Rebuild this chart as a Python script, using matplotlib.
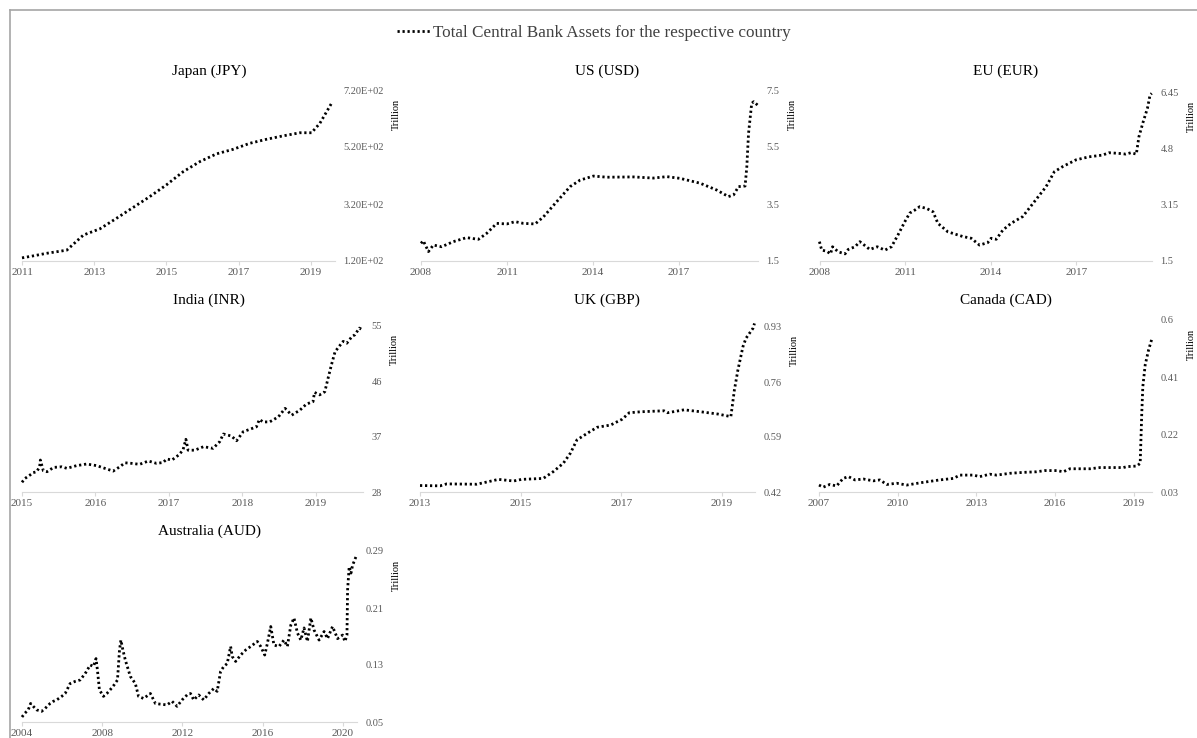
import matplotlib
matplotlib.use('Agg')
import matplotlib.pyplot as plt
from matplotlib.lines import Line2D

plt.rcParams['font.family'] = ['Liberation Serif', 'DejaVu Serif']

W, H = 1197, 738

# Data (decimal years, trillions)
jp_t = [2011.0, 2011.27, 2011.68, 2012.24, 2012.7, 2013.16, 2013.62, 2014.08, 2014.54, 2015.0,
        2015.46, 2015.93, 2016.39, 2016.85, 2017.31, 2017.77, 2018.23, 2018.7, 2019.02, 2019.25, 2019.6]
jp_v = [131, 137, 147, 158, 211, 233, 270, 308, 346, 387,
        433, 469, 496, 512, 533, 547, 559, 570, 570, 603, 679]

us_t = [2008.0, 2008.08, 2008.26, 2008.43, 2008.72, 2009.13, 2009.59, 2010.0, 2010.29, 2010.64,
        2010.99, 2011.28, 2011.57, 2011.98, 2012.27, 2012.73, 2013.2, 2013.55, 2014.01, 2014.48,
        2015.41, 2016.1, 2016.57, 2017.03, 2017.73, 2018.31, 2018.72, 2018.9, 2019.07, 2019.3,
        2019.36, 2019.42, 2019.53, 2019.6, 2019.77]
us_v = [2.12, 2.21, 1.83, 2.06, 2.0, 2.18, 2.32, 2.26, 2.47, 2.82,
        2.80, 2.88, 2.82, 2.80, 3.05, 3.58, 4.11, 4.34, 4.48, 4.44,
        4.45, 4.41, 4.46, 4.40, 4.23, 3.99, 3.76, 3.82, 4.11, 4.13,
        4.81, 5.98, 7.03, 7.09, 6.94]

eu_t = [2007.98, 2008.06, 2008.23, 2008.37, 2008.44, 2008.64, 2008.88, 2008.99, 2009.23, 2009.4,
        2009.75, 2010.01, 2010.28, 2010.51, 2010.74, 2010.98, 2011.15, 2011.33, 2011.5, 2011.74,
        2011.97, 2012.14, 2012.49, 2013.02, 2013.31, 2013.6, 2013.89, 2014.01, 2014.19, 2014.42,
        2014.71, 2015.12, 2015.53, 2015.94, 2016.23, 2016.52, 2016.99, 2017.45, 2017.92, 2018.15,
        2018.5, 2018.74, 2018.92, 2019.11, 2019.2, 2019.35, 2019.5, 2019.59, 2019.65]
eu_v = [2.07, 1.82, 1.79, 1.71, 1.92, 1.77, 1.71, 1.84, 1.92, 2.07,
        1.84, 1.92, 1.82, 1.92, 2.27, 2.66, 2.91, 3.0, 3.1, 3.05,
        2.95, 2.61, 2.36, 2.22, 2.17, 1.97, 2.04, 2.17, 2.14, 2.41,
        2.61, 2.81, 3.25, 3.69, 4.13, 4.28, 4.48, 4.57, 4.62, 4.69,
        4.67, 4.65, 4.69, 4.65, 5.16, 5.60, 6.0, 6.39, 6.44]

in_t = [2015.0, 2015.04, 2015.11, 2015.15, 2015.2, 2015.24, 2015.25, 2015.29, 2015.34, 2015.43,
        2015.54, 2015.61, 2015.74, 2015.88, 2016.02, 2016.1, 2016.24, 2016.33, 2016.4, 2016.49,
        2016.6, 2016.72, 2016.83, 2016.92, 2016.97, 2017.04, 2017.13, 2017.19, 2017.23, 2017.26,
        2017.35, 2017.47, 2017.6, 2017.69, 2017.74, 2017.85, 2017.92, 2018.01, 2018.1, 2018.19,
        2018.23, 2018.28, 2018.37, 2018.49, 2018.58, 2018.67, 2018.78, 2018.87, 2018.96, 2018.98,
        2019.05, 2019.12, 2019.17, 2019.21, 2019.26, 2019.33, 2019.37, 2019.42, 2019.49, 2019.53,
        2019.59, 2019.64]
in_v = [29.58, 30.2, 30.77, 31.14, 31.3, 32.1, 33.2, 31.46, 31.3, 32.0,
        32.1, 31.85, 32.28, 32.55, 32.28, 31.95, 31.4, 32.1, 32.75, 32.66,
        32.5, 33.04, 32.66, 32.8, 33.37, 33.2, 34.0, 34.8, 36.57, 34.8,
        34.8, 35.37, 35.1, 36.18, 37.43, 37.1, 36.34, 37.81, 38.2, 38.6,
        39.8, 39.4, 39.4, 40.24, 41.6, 40.5, 41.3, 42.3, 42.7, 44.2,
        43.8, 44.3, 46.76, 48.66, 50.82, 51.9, 52.5, 52.2, 53.3, 53.57,
        54.66, 54.35]

uk_t = [2013.0, 2013.4, 2013.53, 2014.13, 2014.36, 2014.56, 2014.86, 2015.02, 2015.45, 2015.65,
        2015.85, 2015.99, 2016.12, 2016.32, 2016.52, 2016.79, 2017.02, 2017.16, 2017.39, 2017.85,
        2017.92, 2018.25, 2018.58, 2018.92, 2019.18, 2019.25, 2019.32, 2019.42, 2019.48, 2019.62,
        2019.65]
uk_v = [0.440, 0.439, 0.445, 0.444, 0.452, 0.459, 0.454, 0.459, 0.462, 0.483,
        0.509, 0.540, 0.581, 0.601, 0.620, 0.627, 0.645, 0.665, 0.668, 0.671,
        0.665, 0.674, 0.668, 0.661, 0.653, 0.735, 0.797, 0.869, 0.895, 0.926,
        0.941]

ca_t = [2007.0, 2007.16, 2007.41, 2007.67, 2007.92, 2008.12, 2008.37, 2008.69, 2009.07, 2009.32,
        2009.58, 2009.96, 2010.34, 2010.97, 2011.6, 2012.12, 2012.37, 2012.88, 2013.13, 2013.51,
        2013.77, 2014.28, 2014.78, 2015.29, 2015.61, 2016.06, 2016.31, 2016.56, 2017.33, 2017.71,
        2018.6, 2018.73, 2019.11, 2019.24, 2019.3, 2019.34, 2019.43, 2019.56, 2019.69]
ca_v = [0.053, 0.046, 0.055, 0.050, 0.075, 0.081, 0.070, 0.073, 0.067, 0.070,
        0.055, 0.059, 0.053, 0.062, 0.070, 0.075, 0.086, 0.086, 0.081, 0.089,
        0.086, 0.092, 0.095, 0.097, 0.101, 0.101, 0.097, 0.107, 0.107, 0.111,
        0.111, 0.114, 0.116, 0.125, 0.291, 0.379, 0.451, 0.501, 0.539]

au_t = [2004.0, 2004.13, 2004.31, 2004.43, 2004.56, 2004.73, 2004.98, 2005.15, 2005.4, 2005.56,
        2005.73, 2005.98, 2006.15, 2006.4, 2006.65, 2006.9, 2007.15, 2007.4, 2007.56, 2007.69,
        2007.76, 2007.86, 2008.06, 2008.23, 2008.39, 2008.59, 2008.76, 2008.86, 2008.93, 2009.03,
        2009.15, 2009.4, 2009.65, 2009.81, 2010.06, 2010.4, 2010.65, 2010.9, 2011.23, 2011.48,
        2011.73, 2011.98, 2012.23, 2012.4, 2012.56, 2012.81, 2013.06, 2013.31, 2013.56, 2013.73,
        2013.9, 2014.06, 2014.23, 2014.4, 2014.48, 2014.65, 2014.9, 2015.15, 2015.4, 2015.73,
        2015.9, 2016.1, 2016.23, 2016.4, 2016.56, 2016.81, 2017.06, 2017.23, 2017.4, 2017.56,
        2017.73, 2017.9, 2018.06, 2018.23, 2018.4, 2018.56, 2018.81, 2019.06, 2019.23, 2019.48,
        2019.73, 2019.98, 2020.1, 2020.2, 2020.23, 2020.31, 2020.4, 2020.48, 2020.65]
au_v = [0.057, 0.062, 0.067, 0.076, 0.072, 0.067, 0.065, 0.069, 0.076, 0.079,
        0.081, 0.086, 0.090, 0.104, 0.107, 0.109, 0.118, 0.130, 0.128, 0.139,
        0.123, 0.095, 0.086, 0.090, 0.095, 0.102, 0.109, 0.151, 0.165, 0.151,
        0.137, 0.114, 0.104, 0.086, 0.083, 0.090, 0.076, 0.075, 0.074, 0.079,
        0.072, 0.081, 0.088, 0.090, 0.081, 0.088, 0.081, 0.090, 0.097, 0.093,
        0.121, 0.128, 0.132, 0.156, 0.142, 0.135, 0.144, 0.151, 0.156, 0.163,
        0.156, 0.144, 0.160, 0.184, 0.158, 0.156, 0.165, 0.156, 0.186, 0.196,
        0.175, 0.165, 0.182, 0.163, 0.196, 0.179, 0.165, 0.177, 0.167, 0.184,
        0.167, 0.172, 0.163, 0.172, 0.235, 0.268, 0.259, 0.270, 0.282]

titles = ['Japan (JPY)', 'US (USD)', 'EU (EUR)', 'India (INR)', 'UK (GBP)', 'Canada (CAD)', 'Australia (AUD)']
series = [(jp_t, jp_v), (us_t, us_v), (eu_t, eu_v), (in_t, in_v), (uk_t, uk_v), (ca_t, ca_v), (au_t, au_v)]
x_ticks = [[2011, 2013, 2015, 2017, 2019], [2008, 2011, 2014, 2017], [2008, 2011, 2014, 2017],
           [2015, 2016, 2017, 2018, 2019], [2013, 2015, 2017, 2019], [2007, 2010, 2013, 2016, 2019],
           [2004, 2008, 2012, 2016, 2020]]
y_ticks = [[120, 320, 520, 720], [1.5, 3.5, 5.5, 7.5], [1.5, 3.15, 4.8, 6.45], [28, 37, 46, 55],
           [0.42, 0.59, 0.76, 0.93], [0.03, 0.22, 0.41, 0.6], [0.05, 0.13, 0.21, 0.29]]
y_labels = [['1.20E+02', '3.20E+02', '5.20E+02', '7.20E+02'], ['1.5', '3.5', '5.5', '7.5'],
            ['1.5', '3.15', '4.8', '6.45'], ['28', '37', '46', '55'], ['0.42', '0.59', '0.76', '0.93'],
            ['0.03', '0.22', '0.41', '0.6'], ['0.05', '0.13', '0.21', '0.29']]
x_end = [2019.67, 2019.75, 2019.66, 2019.64, 2019.66, 2019.69, 2020.7]

# axes boxes in pixels: left, top, right, bottom
boxes = [(22, 90, 335, 261), (421, 90, 758, 261), (820, 93, 1152, 261),
         (22, 326, 363, 492), (420, 327, 755, 492), (819, 320, 1152, 492),
         (22, 551, 357, 722)]
col_centre = [209, 607, 1006]
row_title_y = [71, 300, 531]

fig = plt.figure(figsize=(W / 100, H / 100), dpi=100)

dot = (0, (0.8, 1.0))
for i, (l, t, r, b) in enumerate(boxes):
    ax = fig.add_axes([l / W, 1 - b / H, (r - l) / W, (b - t) / H])
    xs, ys = series[i]
    ax.plot(xs, ys, color='black', linestyle=dot, linewidth=2.0, dash_capstyle='butt', clip_on=False)
    ax.set_xlim(x_ticks[i][0], x_end[i])
    ax.set_ylim(y_ticks[i][0], y_ticks[i][-1])
    ax.set_xticks(x_ticks[i])
    ax.set_xticklabels([str(v) for v in x_ticks[i]])
    ax.set_yticks(y_ticks[i])
    ax.set_yticklabels(y_labels[i])
    ax.yaxis.tick_right()
    ax.yaxis.set_label_position('right')
    for s in ['top', 'left', 'right']:
        ax.spines[s].set_visible(False)
    ax.spines['bottom'].set_color('#d9d9d9')
    ax.tick_params(axis='x', colors='#d9d9d9', labelcolor='#595959', labelsize=8, length=3, pad=2)
    ax.tick_params(axis='y', length=0, labelcolor='#595959', labelsize=7.5, pad=6)
    ax.set_ylabel('Trillion', fontsize=7.5, color='black', labelpad=6, y=0.86)
    ax.set_facecolor('none')
    fig.text(col_centre[i % 3] / W, 1 - row_title_y[i // 3] / H, titles[i], ha='center', va='center',
             fontsize=11, color='black')

# legend
handle = Line2D([], [], color='black', linestyle=dot, linewidth=2.0, dash_capstyle='butt')
fig.legend([handle], ['Total Central Bank Assets for the respective country'], loc='center',
           bbox_to_anchor=(594 / W, 1 - 33 / H), frameon=False, fontsize=12.3, handlelength=1.9,
           handletextpad=0.2, labelcolor='#404040')

# outer border (cut off at right and bottom)
fig.add_artist(Line2D([10 / W, 10 / W], [0, 1 - 10 / H], color='#a6a6a6', linewidth=1.2))
fig.add_artist(Line2D([10 / W, 1], [1 - 10 / H, 1 - 10 / H], color='#a6a6a6', linewidth=1.2))

fig.savefig('out.png', dpi=100)
